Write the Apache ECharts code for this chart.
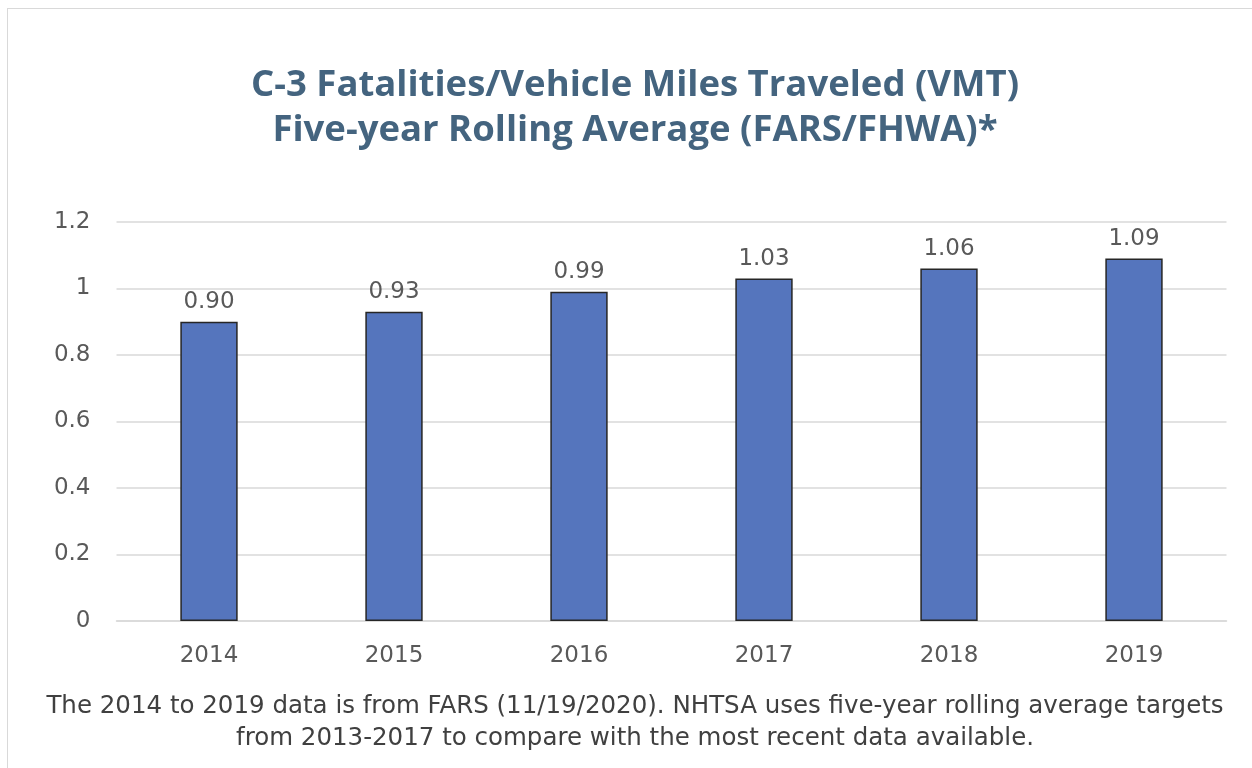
<!DOCTYPE html>
<html><head><meta charset="utf-8">
<script src="https://cdn.jsdelivr.net/npm/echarts@6/dist/echarts.min.js"></script>
<style>
html,body{margin:0;padding:0;background:#fff;}
#frame{position:absolute;left:7px;top:8px;width:1260px;height:780px;border:1.5px solid #d9d9d9;box-sizing:border-box;}
#c{position:absolute;left:0;top:0;width:1252px;height:768px;}
</style></head>
<body>
<div id="frame"></div>
<div id="c"></div>
<script>
const categories = ['2014','2015','2016','2017','2018','2019'];
const values = [0.90, 0.93, 0.99, 1.03, 1.06, 1.09];
const yTicks = [0, 0.2, 0.4, 0.6, 0.8, 1, 1.2];
const titleLines = ['C-3 Fatalities/Vehicle Miles Traveled (VMT)', 'Five-year Rolling Average (FARS/FHWA)*'];
const footnoteLines = ['The 2014 to 2019 data is from FARS (11/19/2020). NHTSA uses five-year rolling average targets', 'from 2013-2017 to compare with the most recent data available.'];

const chart = echarts.init(document.getElementById('c'));
const tfont = '"Open Sans", "Noto Sans", sans-serif';
const font = '"DejaVu Sans", sans-serif';
chart.setOption({
  animation: false,
  title: [{
    text: titleLines.join('\n'),
    left: 630, top: 58, textAlign: 'center',
    textStyle: {fontFamily: tfont, fontWeight: 'bold', fontSize: 36.5, lineHeight: 45, color: '#44647f'}
  }, {
    text: footnoteLines.join('\n'),
    left: 630, top: 686, textAlign: 'center',
    textStyle: {fontFamily: font, fontWeight: 'normal', fontSize: 24.5, lineHeight: 32, color: '#404040'}
  }],
  grid: {left: 116.5, right: 25.5, top: 222, bottom: 147, containLabel: false},
  xAxis: {
    type: 'category', data: categories,
    axisLine: {show: true, lineStyle: {color: '#d9d9d9', width: 1.5}},
    axisTick: {show: false},
    axisLabel: {fontFamily: font, fontSize: 23, color: '#595959', margin: 24}
  },
  yAxis: {
    type: 'value', min: yTicks[0], max: yTicks[yTicks.length-1], interval: 0.2,
    axisLine: {show: false}, axisTick: {show: false},
    splitLine: {lineStyle: {color: '#d9d9d9', width: 1.5}},
    axisLabel: {fontFamily: font, fontSize: 23, color: '#595959', margin: 26,
      formatter: v => String(Math.round(v*10)/10)}
  },
  series: [{
    type: 'bar', data: values, barWidth: '31%',
    itemStyle: {color: '#5575bd', borderColor: '#262626', borderWidth: 1.5},
    label: {show: true, position: 'top', distance: 8, fontFamily: font, fontSize: 23, color: '#595959',
      formatter: p => p.value.toFixed(2)}
  }]
});
</script>
</body></html>
